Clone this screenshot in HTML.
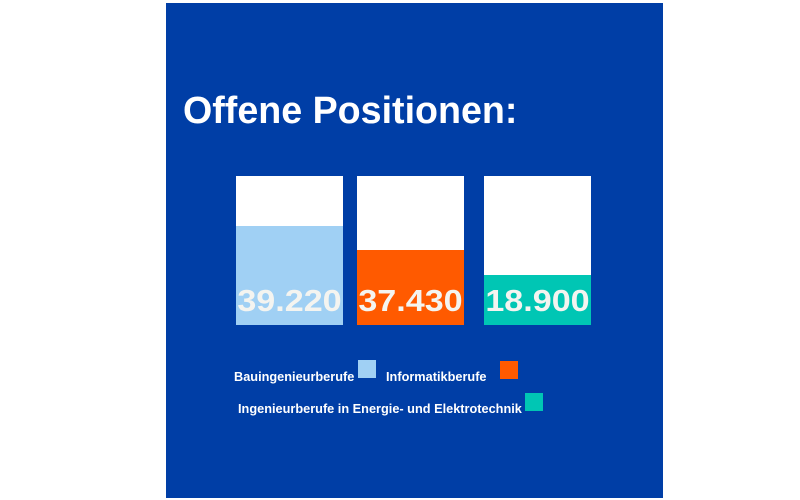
<!DOCTYPE html>
<html><head><meta charset="utf-8"><style>
body{margin:0;width:800px;height:500px;background:#fff;position:relative;overflow:hidden;font-family:"Liberation Sans",sans-serif}
.p{position:absolute;left:166px;top:3px;width:497px;height:495px;background:#003ea6}
.t{position:absolute;left:183px;top:90px;color:#fff;font-weight:bold;font-size:38px;transform:scaleX(0.99);transform-origin:left top;white-space:nowrap}
.bar{position:absolute;top:176px;width:107px;height:149px;background:#fff}
.f{position:absolute;left:0;right:0;bottom:0}
.n{position:absolute;left:0;width:107px;bottom:6px;text-align:center;color:#f4f4f0;font-weight:bold;font-size:31px;transform:scaleX(1.1);white-space:nowrap}
.l{position:absolute;color:#fff;font-weight:bold;font-size:13px;transform:scaleX(0.98);transform-origin:left top;white-space:nowrap}
.s{position:absolute;width:18px;height:18px}
</style></head><body>
<div class="p"></div>
<div class="t">Offene Positionen:</div>
<div class="bar" style="left:236px"><div class="f" style="top:50px;background:#a0d0f4"></div><div class="n">39.220</div></div>
<div class="bar" style="left:357px"><div class="f" style="top:74px;background:#ff5a00"></div><div class="n">37.430</div></div>
<div class="bar" style="left:484px"><div class="f" style="top:99px;background:#00c6b4"></div><div class="n">18.900</div></div>
<div class="l" style="left:234px;top:369px">Bauingenieurberufe</div>
<div class="s" style="left:358px;top:360px;background:#a0d0f4"></div>
<div class="l" style="left:386px;top:369px">Informatikberufe</div>
<div class="s" style="left:500px;top:361px;background:#ff5a00"></div>
<div class="l" style="left:238px;top:401px">Ingenieurberufe in Energie- und Elektrotechnik</div>
<div class="s" style="left:525px;top:393px;background:#00c6b4"></div>
</body></html>
